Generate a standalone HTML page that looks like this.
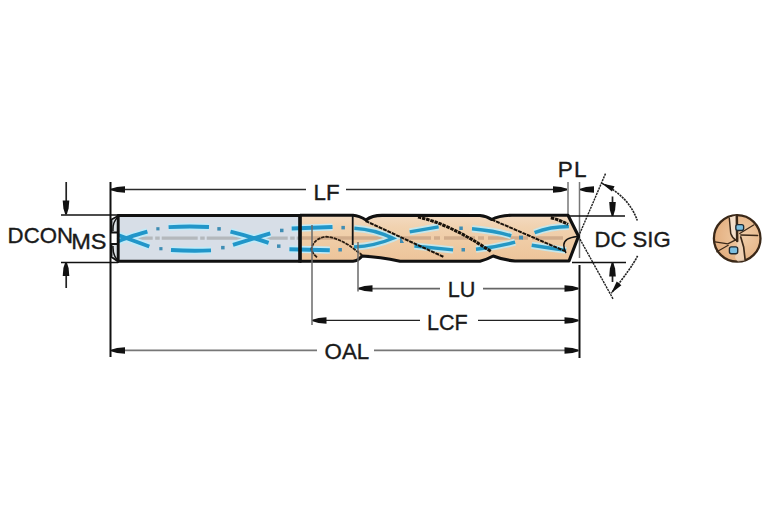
<!DOCTYPE html>
<html><head><meta charset="utf-8">
<style>
html,body{margin:0;padding:0;background:#fff;width:767px;height:523px;overflow:hidden;}
svg{display:block;}
text{font-family:"Liberation Sans",sans-serif;font-size:22.3px;fill:#1a1a1a;stroke:#1a1a1a;stroke-width:0.35px;}
</style></head>
<body>
<svg width="767" height="523" viewBox="0 0 767 523">
<defs>
  <path id="ah" d="M0,-0.7 L6,-2.6 L14,-3.3 L14,3.3 L6,2.6 L0,0.7 Z" fill="#111"/>
  <path id="ahs" d="M0,0 L12.5,-3 L12.5,3 Z" fill="#111"/>
  <linearGradient id="tan" x1="0" y1="0" x2="0" y2="1">
    <stop offset="0" stop-color="#f3dbc2"/>
    <stop offset="0.25" stop-color="#f1d2b0"/>
    <stop offset="0.6" stop-color="#efcba4"/>
    <stop offset="1" stop-color="#edc49a"/>
  </linearGradient>
  <radialGradient id="ev" cx="0.62" cy="0.45" r="0.7">
    <stop offset="0" stop-color="#f0cda8"/>
    <stop offset="1" stop-color="#e2ab7a"/>
  </radialGradient>
</defs>
<!-- ===== extension lines ===== -->
<g stroke="#111" stroke-width="2" fill="none">
  <line x1="110.5" y1="182" x2="110.5" y2="357"/>
  <line x1="579.5" y1="265" x2="579.5" y2="358"/>
</g>
<g stroke="#777" stroke-width="1.5" fill="none">
  <line x1="568" y1="182" x2="568" y2="214"/>
  <line x1="579.5" y1="182" x2="579.5" y2="258"/>
</g>
<g stroke="#111" stroke-width="1.5" fill="none">
  <line x1="61" y1="215" x2="118" y2="215"/>
  <line x1="61" y1="262.5" x2="118" y2="262.5"/>
  <line x1="567" y1="216" x2="625" y2="216"/>
  <line x1="572" y1="262.5" x2="626" y2="262.5"/>
</g>
<!-- ===== dimension lines ===== -->
<g fill="none">
  <line x1="111" y1="189.4" x2="306" y2="189.4" stroke="#2a2a2a" stroke-width="1.5"/>
  <line x1="346" y1="189.4" x2="567" y2="189.4" stroke="#2a2a2a" stroke-width="1.5"/>
  <line x1="358" y1="288.7" x2="440" y2="288.7" stroke="#666" stroke-width="1.7"/>
  <line x1="483" y1="288.7" x2="578" y2="288.7" stroke="#666" stroke-width="1.7"/>
  <line x1="312" y1="320.4" x2="420" y2="320.4" stroke="#222" stroke-width="1.4"/>
  <line x1="478" y1="320.4" x2="578" y2="320.4" stroke="#222" stroke-width="1.4"/>
  <line x1="111" y1="350.4" x2="317" y2="350.4" stroke="#777" stroke-width="1.8"/>
  <line x1="374" y1="350.4" x2="578" y2="350.4" stroke="#777" stroke-width="1.8"/>
  <g stroke="#222" stroke-width="1.7">
  <line x1="66.2" y1="182" x2="66.2" y2="214"/>
  <line x1="66.2" y1="262" x2="66.2" y2="288"/>
  <line x1="612.5" y1="196.5" x2="612.5" y2="216"/>
  <line x1="612.5" y1="262" x2="612.5" y2="282"/>
  </g>
</g>
<g>
  <use href="#ah" transform="translate(111,189.5)"/>
  <use href="#ah" transform="translate(567,189.5) rotate(180)"/>
  <use href="#ah" transform="translate(580,189.5)"/>
  <use href="#ah" transform="translate(358.5,288.5)"/>
  <use href="#ah" transform="translate(578.5,288.5) rotate(180)"/>
  <use href="#ah" transform="translate(312.5,320.5)"/>
  <use href="#ah" transform="translate(578.5,320.5) rotate(180)"/>
  <use href="#ah" transform="translate(111,350.5)"/>
  <use href="#ah" transform="translate(578.5,350.5) rotate(180)"/>
  <use href="#ah" transform="translate(66,214.5) rotate(-90)"/>
  <use href="#ah" transform="translate(66,262) rotate(90)"/>
  <use href="#ah" transform="translate(612.5,216) rotate(-90)"/>
  <use href="#ah" transform="translate(612.5,262.5) rotate(90)"/>
</g>
<!-- SIG lines -->
<g stroke="#222" stroke-width="1.4" fill="none" stroke-dasharray="2.2,0.8">
  <line x1="605.5" y1="173.6" x2="578.5" y2="236.5"/>
  <line x1="578.5" y1="236.5" x2="613.2" y2="299.2"/>
  <path d="M602,183.4 Q629.3,196.8 637.3,220.6" stroke-width="1.6"/>
  <path d="M637.6,255.9 Q631.4,268.2 611.2,293.2" stroke-width="1.6"/>
</g>
<use href="#ahs" transform="translate(602,183.4) rotate(26)"/>
<use href="#ahs" transform="translate(611.2,293.2) rotate(-51)"/>

<!-- ===== drill ===== -->
<!-- shank -->
<rect x="118" y="215" width="182" height="46.5" fill="#d7dee7"/>
<path d="M118,216 L111.5,219.5 L111.5,232.5 L118,232.5 Z M118,244 L111.5,244 L111.5,257 L118,261.5 Z" fill="#dde2e6" stroke="#111" stroke-width="1.8" stroke-linejoin="miter"/>
<path d="M117.5,217.5 Q112.5,222 113,231 M117.5,260 Q112.5,255 113,246" stroke="#111" stroke-width="1.5" fill="none"/>
<!-- tan body -->
<path d="M300,215.3 L353,215.3 Q359,215.6 366,220 Q372,215.5 382,215.4 L480,215.5 Q487,216.2 491.6,219.5 Q499,215.5 512,215.2 L568,215.2 L578.5,236.3 L569,261 L515,261 Q503,260 493.2,256 Q487,259.5 480,261.2 L400,261.2 Q380,257 362,256 Q358,261 353,261.2 L300,261.2 Z" fill="url(#tan)"/>
<!-- center line -->
<line x1="118" y1="238.2" x2="299" y2="238.2" stroke="#b4b8bc" stroke-width="3.2" stroke-dasharray="36,2.5,4.5,2" stroke-dashoffset="1.3"/>
<line x1="302" y1="238" x2="400" y2="238" stroke="#d2ad8c" stroke-width="3.6"/>
<line x1="400" y1="238" x2="566" y2="238" stroke="#d2ad8c" stroke-width="3.6" stroke-dasharray="31,3,6,4"/>
<!-- blue coolant / flutes -->
<g fill="none" stroke-linecap="butt">
 <g stroke="#c0eaf8" stroke-width="7.2">
  <path d="M118,241.5 Q125,238 147.4,231.7 M118,235 Q126,238 149.3,246.5"/>
  <path d="M168.6,227.1 Q189,226 209,227"/>
  <path d="M171,250 Q191,251.2 211,250.4"/>
  <path d="M230.5,231.7 Q250,236.5 268.6,242.8 M233,244.9 Q250,239.5 270.3,233.4"/>
  <path d="M291.7,228.5 L332.5,227"/>
  <path d="M289.4,249.2 L329.8,250.2"/>
 </g>
 <g stroke="#2196c9" stroke-width="3.9">
  <path d="M118,241.5 Q125,238 147.4,231.7 M118,235 Q126,238 149.3,246.5"/>
  <path d="M168.6,227.1 Q189,226 209,227"/>
  <path d="M171,250 Q191,251.2 211,250.4"/>
  <path d="M230.5,231.7 Q250,236.5 268.6,242.8 M233,244.9 Q250,239.5 270.3,233.4"/>
  <path d="M291.7,228.5 L332.5,227"/>
  <path d="M289.4,249.2 L329.8,250.2"/>
 </g>
 <g stroke="#c6e6ea" stroke-width="7">
  <path d="M354.3,228.2 Q375,229.5 393,238.3 Q375,246 354,247"/>
  <path d="M409.7,231.9 L438.6,226.8"/>
  <path d="M414.4,246 L453.1,249.9"/>
  <path d="M472,228.8 Q495,230.8 511.2,235.8"/>
  <path d="M476,249.2 Q496,247.3 515.1,242.2"/>
  <path d="M534.6,232.7 Q550,226.5 568.9,226.5"/>
  <path d="M531.7,245.3 Q550,248.2 566.1,250.4"/>
 </g>
 <g stroke="#2497c4" stroke-width="3.4">
  <path d="M354.3,228.2 Q375,229.5 393,238.3 Q375,246 354,247"/>
  <path d="M409.7,231.9 L438.6,226.8"/>
  <path d="M414.4,246 L453.1,249.9"/>
  <path d="M472,228.8 Q495,230.8 511.2,235.8"/>
  <path d="M476,249.2 Q496,247.3 515.1,242.2"/>
  <path d="M534.6,232.7 Q550,226.5 568.9,226.5"/>
  <path d="M531.7,245.3 Q550,248.2 566.1,250.4"/>
 </g>
</g>
<g fill="#3f8db4">
  <rect x="156.3" y="227.2" width="3.2" height="3.2"/>
  <rect x="159.3" y="247.1" width="3.2" height="3.2"/>
  <rect x="217.3" y="227.1" width="3.5" height="3.5"/>
  <rect x="221.1" y="245.9" width="3.5" height="3.5"/>
  <rect x="280" y="228.7" width="3.5" height="3.5"/>
  <rect x="277" y="244.4" width="3.5" height="3.5"/>
  <rect x="341.4" y="225.9" width="3.5" height="3.5"/>
  <rect x="338.4" y="248" width="3.5" height="3.5"/>
  <path d="M400,236 L404,243 L400,243 Z"/>
  <rect x="459.3" y="226.5" width="3.5" height="3.5"/>
  <rect x="461.5" y="248" width="3.5" height="3.5"/>
  <rect x="519" y="235.6" width="4" height="4"/>
</g>
<!-- outlines -->
<g stroke="#111" fill="none" stroke-linejoin="round">
  <rect x="118.2" y="215.5" width="181.8" height="45.8" stroke-width="2.9"/>
  <line x1="300" y1="214" x2="300" y2="262.6" stroke-width="3.4"/>
  <line x1="352.7" y1="215" x2="352.7" y2="245" stroke-width="1.8"/>
  <path d="M300,215.3 L353,215.3 Q359,215.6 366,220 Q372,215.5 382,215.4 L480,215.5 Q487,216.2 491.6,219.5 Q499,215.5 512,215.2 L568,215.2 L578.5,236.3 L569,261 L515,261 Q503,260 493.2,256 Q487,259.5 480,261.2 L400,261.2 Q380,257 362,256 Q358,261 353,261.2 L300,261.2" stroke-width="3.1"/>
  <!-- neck flute loop + line C -->
  <path d="M317,257.4 Q311,252 311.5,248.6 Q314,238 326.4,236.7 Q338,238 350,246 L362,255" stroke="#2a1c10" stroke-width="1.8" stroke-dasharray="3.5,0.8"/>
  <!-- helix lines -->
  <path d="M365.6,221 L444.1,257.1" stroke="#1a120a" stroke-width="2" stroke-dasharray="4,0.8"/>
  <path d="M491.6,219.5 L565.1,251.2" stroke="#1a120a" stroke-width="2" stroke-dasharray="4,0.8"/>
  <path d="M418,217 Q450,224 491,251.5" stroke="#1a120a" stroke-width="3" stroke-dasharray="3.5,0.8"/>
  <path d="M550.8,217.7 Q560,220 568,224.4" stroke="#1a120a" stroke-width="3" stroke-dasharray="3.5,0.8"/>
  <path d="M577,236.6 C569,237.5 564,240 563.8,245 C563.8,249 564.8,251 566,253" stroke-width="1.5"/>
</g>

<g stroke="#6a6a6a" stroke-width="1.5" fill="none">
  <line x1="312" y1="225" x2="312" y2="325"/>
  <line x1="358" y1="242" x2="358" y2="291.5"/>
</g>
<!-- end view -->
<g transform="translate(737.2,238.4) scale(1.04) translate(-737.3,-237.3)">
  <circle cx="737.3" cy="237.3" r="22.4" fill="url(#ev)" stroke="#3a2818" stroke-width="2.2"/>
  <path d="M729.7,217.2 L736.5,215.2 L737.3,239.5 L736.4,239.2 Q732,236 731.1,232.6 Z" fill="#f4dfca"/>
  <path d="M737.3,239.5 L740.7,236 L743.5,245.5 L745,258.5 L738,259.5 Q733,256 737,252 Z" fill="#f1d6bb" opacity="0.8"/>
  <g stroke="#3a2818" fill="none" stroke-linecap="round">
    <path d="M736.9,215 L737.3,239.7" stroke-width="2.4"/>
    <path d="M729.7,217.7 L731.1,232.6 Q732.5,237 736.4,239.2" stroke-width="1.4"/>
    <path d="M740.7,234 L757,234.5" stroke-width="1.3"/>
    <path d="M739.7,232.6 L753.1,224.4" stroke-width="1.2"/>
    <path d="M740.7,235.9 L743.5,245.5 L745,258.5" stroke-width="1.6"/>
    <path d="M716,240.7 L728.3,242.6 L735.9,238.8" stroke-width="1.3"/>
    <path d="M717.7,250.2 L728.7,244" stroke-width="1.1"/>
  </g>
  <rect x="736" y="224" width="7.5" height="5.7" rx="1.8" fill="#7cbfe0" stroke="#1e2a33" stroke-width="1.3"/>
  <rect x="729.8" y="245.4" width="8" height="6.7" rx="2" fill="#7cbfe0" stroke="#1e2a33" stroke-width="1.3"/>
</g>

<!-- ===== text ===== -->
<text transform="translate(7.6,243) scale(0.996,1)">DCON</text>
<text transform="translate(71.2,249.4) scale(1.057,1)">MS</text>
<text transform="translate(313.6,199.7) scale(1.0,1)">LF</text>
<text transform="translate(557.8,176.8) scale(1.06,1)" style="font-size:21.3px;letter-spacing:1px">PL</text>
<text transform="translate(594.4,247.1) scale(0.993,1)">DC SIG</text>
<text transform="translate(447.8,297.4) scale(0.97,1)">LU</text>
<text transform="translate(427,330.2) scale(0.966,1)">LCF</text>
<text transform="translate(324.6,358.7) scale(1.0,1)">OAL</text>
</svg>
</body></html>
